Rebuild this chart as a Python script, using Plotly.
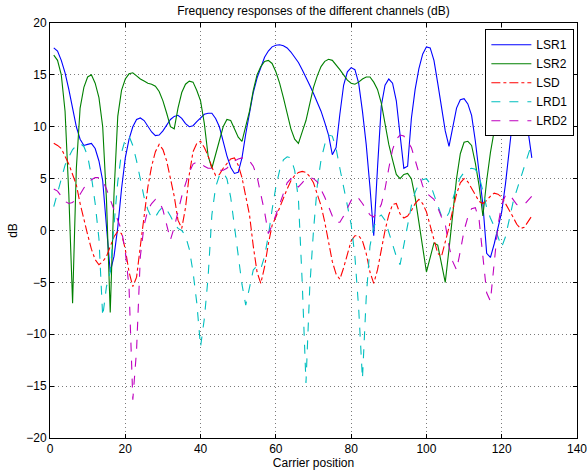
import plotly.graph_objects as go

carrier = list(range(1, 129))

lsr1 = [17.6, 17.3, 16.4, 15.2, 13.6, 11.8, 10.0, 8.8, 8.2, 8.3,
        8.4, 7.9, 6.7, 4.8, 0.5, -4.0, -2.5, 0.3, 4.0, 7.0,
        8.8, 10.0, 10.7, 10.85, 10.6, 10.1, 9.5, 9.15, 9.2, 9.6,
        10.1, 10.7, 11.0, 11.1, 10.8, 10.3, 10.0, 10.1, 10.5, 10.9,
        11.2, 11.3, 11.3, 10.8, 10.0, 8.6, 7.2, 6.1, 5.5, 5.6,
        7.0, 9.3, 11.5, 13.3, 14.7, 15.8, 16.7, 17.3, 17.7, 17.85,
        17.9, 17.8, 17.6, 17.2, 16.7, 16.2, 15.5, 14.8, 14.0, 13.2,
        12.4, 11.5, 10.4, 9.2, 7.3, 8.0, 11.2, 14.0, 15.3, 15.7,
        15.5, 14.2, 11.5, 8.3, 4.2, -0.5, 6.0, 12.0, 14.0, 14.6,
        14.2, 12.5, 9.2, 6.0, 6.2, 10.8, 13.6, 15.6, 17.0, 17.7,
        17.6, 16.4, 14.2, 12.0, 9.6, 8.1, 9.8, 11.8, 12.6, 12.7,
        12.2, 11.1, 8.6, 5.6, 2.5, -2.2, -2.6, -1.3, 0.2, 1.8,
        4.5, 8.0, 11.0, 12.0, 12.1, 11.3, 9.6, 7.0]

lsr2 = [16.9, 16.4, 15.0, 11.5, 3.5, -7.0, 6.0, 11.8, 13.8, 14.8,
        15.0, 14.2, 12.8, 10.0, 3.0, -7.9, 3.5, 11.0, 13.5, 14.6,
        15.1, 15.2, 14.9, 14.6, 14.4, 14.2, 14.1, 13.9, 13.4, 12.5,
        11.3, 10.0, 9.8, 11.8, 13.3, 14.1, 14.4, 14.3, 13.5, 12.5,
        10.3, 7.2, 6.0, 7.4, 8.8, 10.0, 10.7, 10.6, 9.8, 9.0,
        8.6, 10.0, 11.5, 13.5, 15.0, 15.8, 16.3, 16.4, 16.1, 15.3,
        14.2, 12.8, 11.3, 9.8, 8.8, 8.4, 9.5, 10.6, 12.2, 13.8,
        14.9, 15.8, 16.3, 16.5, 16.4, 16.0, 15.5, 15.0, 14.5, 14.2,
        14.1, 14.3, 14.6, 14.8, 14.8, 14.3, 13.6, 12.3, 10.2, 8.3,
        6.8, 5.4, 5.0, 5.4, 5.5, 5.0, 3.2, 1.0, -1.6, -4.0,
        -2.6, -1.2, -1.4, -3.2, -5.0, -1.8, 1.7, 5.0, 7.4, 8.5,
        8.6, 8.2, 6.5, 4.3, 1.4, 4.8, 7.5, 9.6, 11.0, 12.3,
        13.4, 14.2, 14.8, 15.1, 15.2, 15.0, 14.8, 14.8]

lsd = [8.4, 8.2, 7.9, 7.1, 6.4, 5.4, 4.4, 2.6, 1.0, -0.4,
       -1.8, -2.8, -3.3, -3.0, -2.5, -1.5, -0.6, -0.1, -0.3, -1.8,
       -4.0, -5.4, -4.5, -1.5, 1.2, 4.2, 6.2, 7.6, 8.3, 7.8,
       6.7, 5.0, 3.3, 1.0, 0.2, 2.2, 5.4, 7.6, 8.4, 8.6,
       8.0, 7.2, 6.1, 5.3, 5.4, 6.0, 6.5, 6.9, 7.0, 6.3,
       5.1, 3.4, 1.5, -1.5, -4.0, -5.1, -3.5, -1.3, 0.5, 1.3,
       2.2, 3.2, 4.0, 4.8, 5.3, 5.6, 5.7, 5.6, 5.2, 4.6,
       3.6, 2.4, 0.8, -1.2, -3.0, -4.2, -4.7, -3.6, -2.4, -1.0,
       -0.5, -0.5, -1.0, -2.2, -4.0, -5.1, -3.8, -1.8, 0.0, 1.5,
       2.5, 2.6, 1.6, 1.2, 1.4, 1.9, 2.6, 3.0, 2.6, 1.8,
       0.5, -1.0, -2.2, -2.5, -1.2, 0.3, 2.0, 3.5, 4.6, 5.0,
       4.7, 4.1, 3.4, 2.8, 2.6, 2.9, 3.3, 3.6, 3.5, 3.2,
       2.6, 2.0, 1.3, 0.6, 0.2, 0.3, 0.9, 1.4]

lrd1 = [2.3, 3.6, 5.0, 6.3, 7.1, 7.8, 8.2, 8.4, 8.1, 7.2,
        5.2, 2.6, -0.8, -8.3, -5.4, -4.0, 0.5, 4.7, 7.5, 8.8,
        9.1, 8.2, 6.7, 4.8, 3.2, 2.0, 1.2, 1.3, 1.9, 2.3,
        2.0, 1.4, 0.7, 0.2, 0.0, -0.5, -1.8, -4.0, -7.0, -11.2,
        -8.5, -4.5, 1.5, 4.2, 5.3, 5.6, 5.0, 3.2, 0.5, -2.5,
        -5.2, -7.2, -5.5, -3.8, -3.4, -3.7, -2.5, -0.5, 2.0, 4.2,
        5.8, 6.8, 7.1, 7.0, 5.8, 3.0, -5.0, -14.7, -5.5, 0.0,
        4.3, 6.8, 8.3, 9.2, 9.1, 7.9, 6.0, 4.2, 2.3, 0.6,
        -2.5, -7.5, -14.3, -6.5, -1.5, 0.3, 1.2, 1.5, 1.0, -0.1,
        -1.3, -2.5, -3.3, -1.5, 0.6, 2.4, 3.7, 4.5, 4.9, 5.0,
        4.5, 3.5, 2.3, 1.4, 1.1, 1.7, 3.0, 4.2, 5.1, 5.6,
        5.9, 6.0, 5.9, 5.2, 3.8, 2.2, 1.2, 0.4, -0.6, -1.6,
        -0.6, 1.0, 2.7, 3.9, 5.0, 6.2, 7.4, 8.4]

lrd2 = [4.0, 3.8, 3.3, 2.8, 2.6, 2.7, 3.1, 3.5, 4.1, 4.6,
        4.9, 5.1, 5.1, 4.8, 4.0, 3.0, 2.0, 1.2, 0.0, -2.0,
        -5.5, -16.3, -11.5, -2.5, 0.5, 2.0, 2.6, 3.0, 2.8, 2.0,
        0.6, -0.9, 0.3, 1.9, 3.3, 4.5, 5.6, 6.4, 6.6, 6.5,
        6.2, 6.0, 6.0, 5.9, 5.8, 5.8, 6.0, 6.4, 6.7, 6.9,
        7.0, 7.0, 6.7, 6.2, 5.2, 3.5, 1.8, -0.3, 0.5, 1.5,
        2.5, 3.6, 4.6, 5.0, 4.6, 4.2, 4.6, 5.0, 5.1, 5.0,
        4.7, 4.0, 3.2, 2.3, 1.4, 0.8, 0.8, 1.4, 2.2, 2.9,
        3.3, 3.1, 2.6, 2.0, 1.5, 1.3, 1.8, 2.5, 4.0, 6.0,
        7.8, 8.8, 9.2, 9.1, 8.6, 8.0, 6.8, 5.5, 4.3, 3.6,
        3.3, 3.0, 2.2, 1.3, 0.6, -1.5, -3.0, -3.8, -2.0, 0.0,
        1.3, 2.1, 2.2, 1.0, -2.5, -6.0, -6.8, -3.0, 0.5, 2.5,
        3.4, 3.5, 3.0, 2.5, 2.4, 2.5, 2.9, 3.3]

series_names = ["LSR1", "LSR2", "LSD", "LRD1", "LRD2"]
series_values = [lsr1, lsr2, lsd, lrd1, lrd2]
series_colors = ["#0000ff", "#008000", "#ff0000", "#00bfbf", "#bf00bf"]
series_dash = ["solid", "solid", "dashdot", "dash", "dash"]

x_ticks = [0, 20, 40, 60, 80, 100, 120, 140]
y_ticks = [-20, -15, -10, -5, 0, 5, 10, 15, 20]

fig = go.Figure()
for name, vals, col, dash in zip(series_names, series_values, series_colors, series_dash):
    fig.add_trace(go.Scatter(x=carrier, y=vals, mode="lines", name=name,
                             line=dict(color=col, width=1.1, dash=dash)))

axis_common = dict(showline=True, linecolor="black", linewidth=1, mirror="ticks",
                   ticks="inside", ticklen=4, tickcolor="black",
                   showgrid=True, gridcolor="#7a7a7a", griddash="1px,3px", gridwidth=1,
                   zeroline=False, automargin=False, ticklabeloverflow="allow",
                   tickfont=dict(size=12, color="black"))

fig.update_xaxes(range=[0, 140], tickvals=x_ticks,
                 title=dict(text="Carrier position", font=dict(size=12, color="black"), standoff=2),
                 **axis_common)
fig.update_yaxes(range=[-20, 20], tickvals=y_ticks,
                 title=dict(text="dB", font=dict(size=12, color="black"), standoff=6),
                 **axis_common)

fig.update_layout(
    width=587, height=476,
    margin=dict(l=50, r=10, t=23, b=38),
    paper_bgcolor="white", plot_bgcolor="white",
    font=dict(family="Liberation Sans, Arial, sans-serif", size=12, color="black"),
    title=dict(text="Frequency responses of the different channels (dB)",
               x=0.5, xref="paper", y=0.978, yanchor="middle", font=dict(size=12)),
    legend=dict(x=0.995, y=0.985, xanchor="right", yanchor="top",
                bgcolor="white", bordercolor="black", borderwidth=1,
                font=dict(size=12), tracegroupgap=0, itemwidth=40),
    showlegend=True,
)

fig.write_html("out.html")
